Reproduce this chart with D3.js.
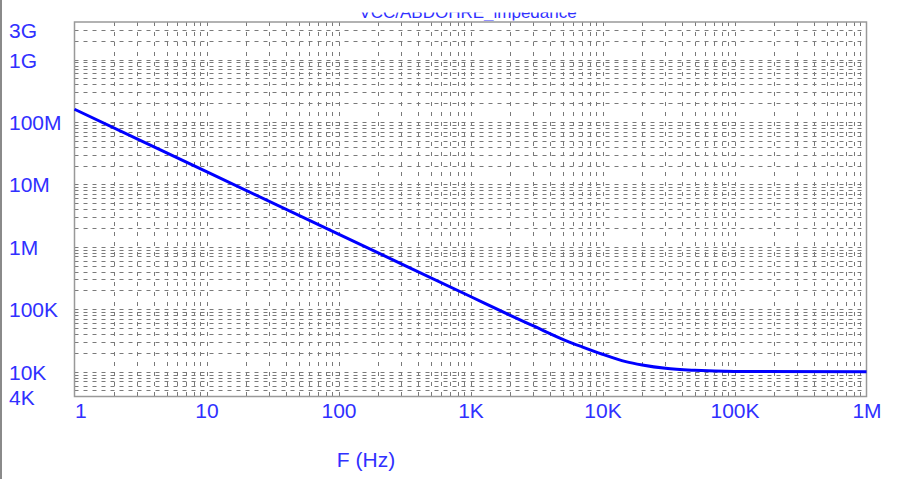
<!DOCTYPE html>
<html>
<head>
<meta charset="utf-8">
<script src="https://cdn.jsdelivr.net/npm/d3@7/dist/d3.min.js"></script>
<style>
  html, body { margin: 0; padding: 0; background: #fff; }
  svg { display: block; }
</style>
</head>
<body>
<script>
// ---- data ----
const freqs = [1, 10, 100, 1000, 2000, 3000, 5000, 7000, 10000, 15000, 20000, 30000, 50000, 100000, 1000000];
const impedance = [1.6e8, 1.6e7, 1.6e6, 1.6e5, 8.0e4, 5.4e4, 3.3e4, 2.5e4, 1.9e4, 1.45e4, 1.28e4, 1.13e4, 1.05e4, 1.01e4, 1.0e4];
const xTickValues = [1, 10, 100, 1e3, 1e4, 1e5, 1e6];
const xTickLabels = ["1", "10", "100", "1K", "10K", "100K", "1M"];
const yTickValues = [4e3, 1e4, 1e5, 1e6, 1e7, 1e8, 1e9, 3e9];
const yTickLabels = ["4K", "10K", "100K", "1M", "10M", "100M", "1G", "3G"];
const xTitle = "F (Hz)";
const chartTitle = "VCC/ABDOHRE_impedance";

(function () {
const W = 901, H = 479;
const pL = 74.5, pR = 866.5, pT = 22, pB = 396.5;
const blue = "#3030ff";
const font = "Liberation Sans, Arial, sans-serif";
const fs = 21;

const svg = d3.select("body").append("svg").attr("width", W).attr("height", H);

const x = d3.scaleLog().domain([1, 1e6]).range([pL, pR]);
const y = d3.scaleLog().domain([4e3, 4e9]).range([pB, pT]);

// left edge bar
svg.append("line").attr("x1", 1).attr("x2", 1).attr("y1", 0).attr("y2", H)
  .attr("stroke", "#8a8a8a").attr("stroke-width", 2);

// title (cropped at top)
svg.append("clipPath").attr("id", "tclip").append("rect")
  .attr("x", 0).attr("y", 12.5).attr("width", W).attr("height", 8);
svg.append("text").attr("clip-path", "url(#tclip)")
  .attr("x", 468).attr("y", 17.5).attr("text-anchor", "middle")
  .attr("font-family", font).attr("font-size", 17)
  .attr("fill", blue).text(chartTitle);

// grid
const grid = svg.append("g");
const xGrid = [];
for (let e = 0; e < 6; e++) for (let k = 1; k <= 9; k++) xGrid.push(k * Math.pow(10, e));
grid.selectAll("line.vx").data(xGrid.filter(v => v > 1 && v < 1e6)).enter().append("line")
  .attr("class", "vx")
  .attr("x1", d => Math.round(x(d)) + 0.5).attr("x2", d => Math.round(x(d)) + 0.5)
  .attr("y1", pT).attr("y2", pB)
  .attr("stroke", "#7a7a7a").attr("stroke-width", 1).attr("stroke-dasharray", "4,6");

const yGrid = [];
for (let e = 3; e <= 9; e++) for (let k = 1; k <= 9; k++) {
  const v = k * Math.pow(10, e);
  if (v > 4e3 && v < 4e9) yGrid.push(v);
}
grid.selectAll("line.hy").data(yGrid).enter().append("line")
  .attr("class", "hy")
  .attr("x1", pL).attr("x2", pR)
  .attr("y1", d => Math.round(y(d)) + 0.5).attr("y2", d => Math.round(y(d)) + 0.5)
  .attr("stroke", "#7a7a7a").attr("stroke-width", 1).attr("stroke-dasharray", "4,5");

// plot border
svg.append("rect").attr("x", pL).attr("y", pT)
  .attr("width", pR - pL).attr("height", pB - pT)
  .attr("fill", "none").attr("stroke", "#999").attr("stroke-width", 1.5);

// curve
const line = d3.line().x((d, i) => x(freqs[i])).y(d => y(d)).curve(d3.curveMonotoneX);
svg.append("path").datum(impedance).attr("d", line)
  .attr("fill", "none").attr("stroke", "#0000ff").attr("stroke-width", 3);

// x axis labels
const xAxis = d3.axisBottom(x).tickValues(xTickValues)
  .tickFormat((d, i) => xTickLabels[i]).tickSize(0).tickPadding(0);
const gx = svg.append("g").attr("transform", `translate(0,${pB})`).call(xAxis);
gx.select(".domain").remove();
gx.selectAll("text")
  .attr("y", 21).attr("dy", 0)
  .attr("font-family", font).attr("font-size", fs)
  .attr("fill", blue);
gx.selectAll("text").filter((d, i) => i === 0).attr("text-anchor", "start").attr("x", 0);

// y axis labels
const yAxis = d3.axisLeft(y).tickValues(yTickValues)
  .tickFormat((d, i) => yTickLabels[i]).tickSize(0).tickPadding(0);
const gy = svg.append("g").attr("transform", "translate(9,0)").call(yAxis);
gy.select(".domain").remove();
gy.selectAll("text")
  .attr("x", 0).attr("dy", "0.36em").attr("text-anchor", "start")
  .attr("font-family", font).attr("font-size", fs)
  .attr("fill", blue);

// x title
svg.append("text").attr("x", 366).attr("y", 467).attr("text-anchor", "middle")
  .attr("font-family", font).attr("font-size", fs)
  .attr("fill", blue).text(xTitle);
})();
</script>
</body>
</html>
